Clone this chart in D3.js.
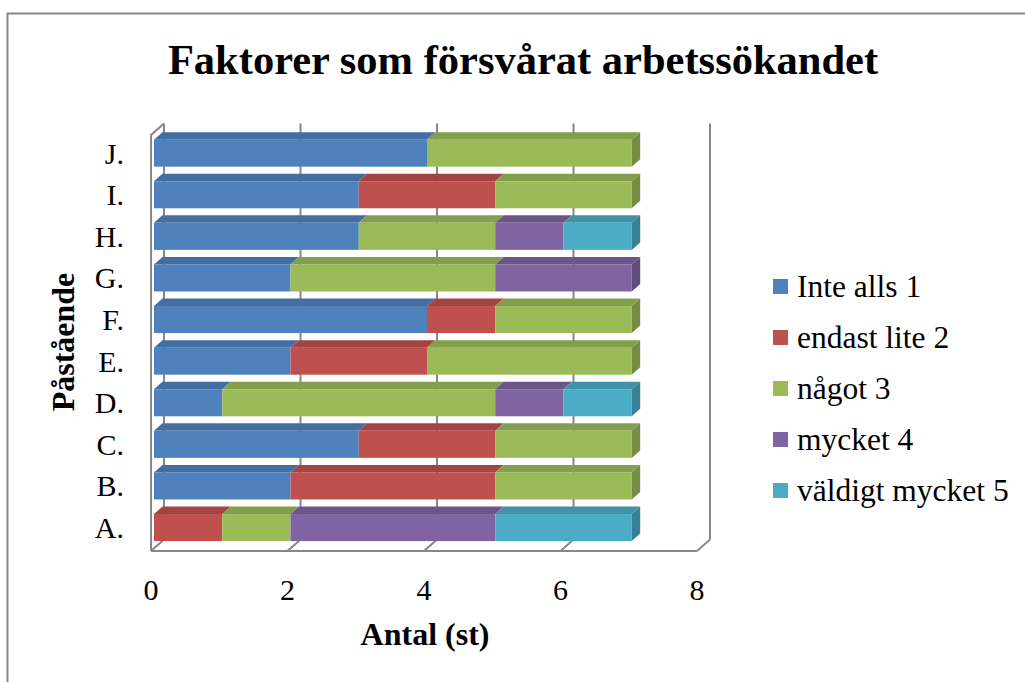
<!DOCTYPE html>
<html>
<head>
<meta charset="utf-8">
<script src="https://cdn.jsdelivr.net/npm/d3@7"></script>
<style>
  html, body { margin: 0; padding: 0; background: #fff; }
  svg { display: block; }
  svg text { font-family: "Times New Roman", "Liberation Serif", "DejaVu Serif", serif; }
</style>
</head>
<body>
<svg id="chart" width="1025" height="682"></svg>
<script>
const categories = ['A.', 'B.', 'C.', 'D.', 'E.', 'F.', 'G.', 'H.', 'I.', 'J.'];
const seriesNames = ['Inte alls 1', 'endast lite 2', 'något 3', 'mycket 4', 'väldigt mycket 5'];
const inteAlls = [0, 2, 3, 1, 2, 4, 2, 3, 3, 4];
const endastLite = [1, 3, 2, 0, 2, 1, 0, 0, 2, 0];
const nagot = [1, 2, 2, 4, 3, 2, 3, 2, 2, 3];
const mycket = [3, 0, 0, 1, 0, 0, 2, 1, 0, 0];
const valdigtMycket = [2, 0, 0, 1, 0, 0, 0, 1, 0, 0];
const xTicks = [0, 2, 4, 6, 8];
const COLORS = ['#4F81BD', '#C0504D', '#9BBB59', '#8064A2', '#4BACC6'];

const svg = d3.select('#chart');
const GRID = '#878787';

// depth vector of the 3d box, bars sit inside it
const DX = 13, DY = -11.5;
const B0 = 0.23, B1 = 0.88;

const x = d3.scaleLinear().domain([0, 8]).range([151, 697]);
const y = d3.scaleBand().domain(categories.slice().reverse()).range([135, 551])
  .paddingInner(0.35).paddingOuter(0.175);

const rows = categories.map((c, i) => ({
  cat: c, s0: inteAlls[i], s1: endastLite[i], s2: nagot[i], s3: mycket[i], s4: valdigtMycket[i]
}));
const stacked = d3.stack().keys(['s0', 's1', 's2', 's3', 's4'])(rows);

// outer frame
svg.append('rect').attr('x', 7.5).attr('y', 13.5).attr('width', 1100).attr('height', 800)
  .attr('fill', 'none').attr('stroke', GRID).attr('stroke-width', 2);

// title
svg.append('text').attr('x', 523).attr('y', 73.5).attr('text-anchor', 'middle')
  .attr('font-size', 42.5).attr('font-weight', 'bold').text('Faktorer som försvårat arbetssökandet');

// walls and grid
const g = svg.append('g').attr('fill', 'none').attr('stroke', GRID).attr('stroke-width', 2);
const plotTop = 135, plotBot = 551;
// left wall
g.append('path').attr('d', `M${x(0)},${plotBot} L${x(0)},${plotTop} L${x(0) + DX},${plotTop + DY}`);
// back wall gridlines + floor diagonals
xTicks.forEach(v => {
  g.append('line').attr('x1', x(v) + DX).attr('x2', x(v) + DX)
    .attr('y1', plotTop + DY).attr('y2', plotBot + DY);
  g.append('line').attr('x1', x(v)).attr('x2', x(v) + DX)
    .attr('y1', plotBot).attr('y2', plotBot + DY);
});
// floor front edge
g.append('line').attr('x1', x(0)).attr('x2', x(8)).attr('y1', plotBot).attr('y2', plotBot);

// bars
const bars = svg.append('g');
const pts = p => p.map(q => q.join(',')).join(' ');
categories.slice().reverse().forEach(cat => {
  const i = categories.indexOf(cat);
  const y0 = y(cat), h = y.bandwidth();
  const fx = B0 * DX, fy = B0 * DY;
  const ddx = (B1 - B0) * DX, ddy = (B1 - B0) * DY;
  let last = -1;
  stacked.forEach((s, k) => { if (s[i][1] > s[i][0]) last = k; });
  stacked.forEach((s, k) => {
    const a = s[i][0], b = s[i][1];
    if (b <= a) return;
    const c = d3.color(COLORS[k]);
    const xa = x(a) + fx, xb = x(b) + fx, yt = y0 + fy;
    // top face
    bars.append('polygon').attr('fill', c.darker(0.45))
      .attr('points', pts([[xa, yt], [xb, yt], [xb + ddx, yt + ddy], [xa + ddx, yt + ddy]]));
    // front face
    bars.append('rect').attr('x', xa).attr('y', yt).attr('width', xb - xa).attr('height', h).attr('fill', c);
    if (k === last) {
      bars.append('polygon').attr('fill', c.darker(0.8))
        .attr('points', pts([[xb, yt], [xb + ddx, yt + ddy], [xb + ddx, yt + h + ddy], [xb, yt + h]]));
    }
  });
});

// category labels
svg.append('g').selectAll('text').data(categories).join('text')
  .attr('x', 124).attr('y', d => y(d) + B0 * DY + y.bandwidth() / 2 + 10.5)
  .attr('text-anchor', 'end').attr('font-size', 30).text(d => d);

// x tick labels
svg.append('g').selectAll('text').data(xTicks).join('text')
  .attr('x', d => x(d)).attr('y', 600).attr('text-anchor', 'middle')
  .attr('font-size', 30).text(d => d);

// axis titles
svg.append('text').attr('x', 425).attr('y', 645).attr('text-anchor', 'middle')
  .attr('font-size', 32).attr('font-weight', 'bold').text('Antal (st)');
svg.append('text').attr('transform', 'translate(74,342) rotate(-90)').attr('text-anchor', 'middle')
  .attr('font-size', 32).attr('font-weight', 'bold').text('Påstående');

// legend
const legendY = [286, 337, 388, 439, 490];
const lg = svg.append('g').selectAll('g').data(seriesNames).join('g')
  .attr('transform', (d, k) => `translate(773,${legendY[k]})`);
lg.append('rect').attr('x', 0).attr('y', -7).attr('width', 15).attr('height', 15).attr('fill', (d, k) => COLORS[k]);
lg.append('text').attr('x', 24).attr('y', 10.5).attr('font-size', 31.5).text(d => d);
</script>
</body>
</html>
